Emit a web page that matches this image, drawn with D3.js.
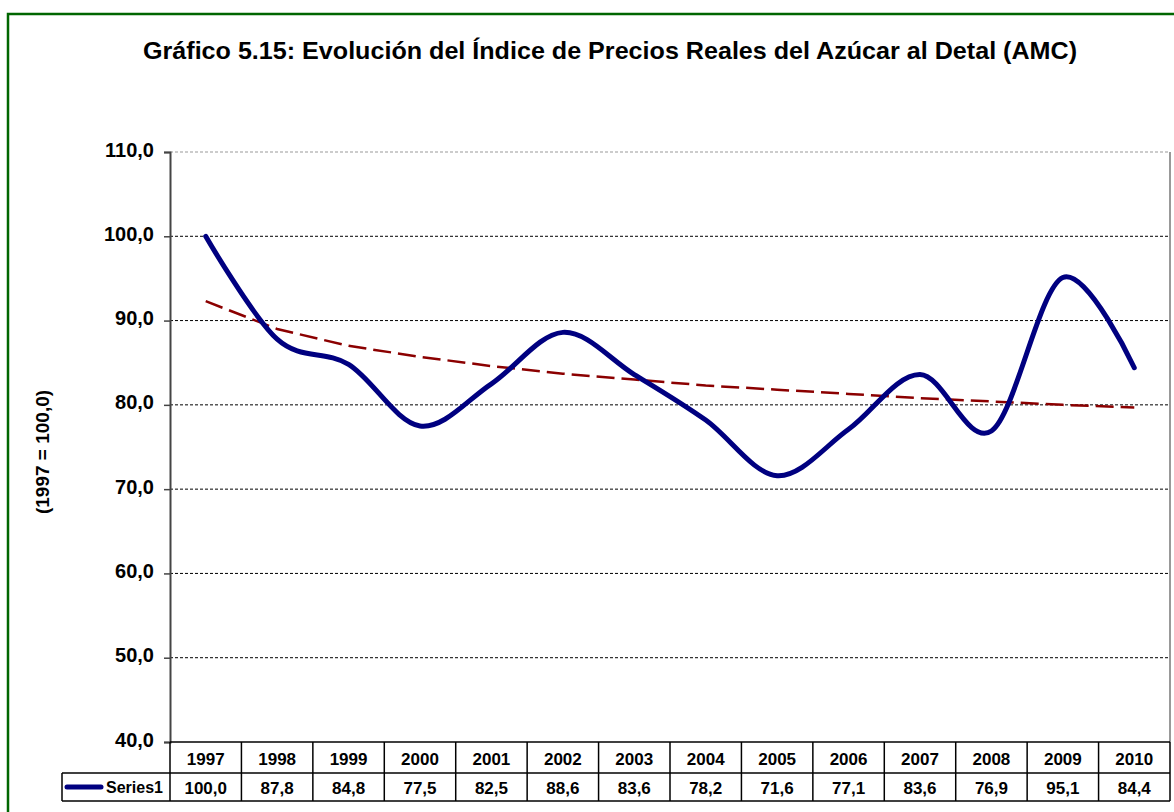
<!DOCTYPE html>
<html>
<head>
<meta charset="utf-8">
<script src="https://cdn.jsdelivr.net/npm/d3@7"></script>
<style>
  body { margin: 0; background: #fff; }
  svg { display: block; font-family: "Liberation Sans", Arial, sans-serif; }
</style>
</head>
<body>
<div id="chart"></div>
<script>
// data
const years = ["1997","1998","1999","2000","2001","2002","2003","2004","2005","2006","2007","2008","2009","2010"];
const series1 = [100.0, 87.8, 84.8, 77.5, 82.5, 88.6, 83.6, 78.2, 71.6, 77.1, 83.6, 76.9, 95.1, 84.4];
const trend = [92.3, 89.0, 87.0, 85.7, 84.6, 83.7, 83.0, 82.3, 81.8, 81.3, 80.8, 80.4, 80.0, 79.7];
const yTicks = [40, 50, 60, 70, 80, 90, 100, 110];
const seriesName = "Series1";
const title = "Gráfico 5.15: Evolución del Índice de Precios Reales del Azúcar al Detal (AMC)";
const yLabel = "(1997 = 100,0)";

const W = 1174, H = 812;
const plot = {left: 170, right: 1170, top: 152, bottom: 742};
const rowH = [31, 28];
const fmt = v => d3.format(".1f")(v).replace(".", ",");

const svg = d3.select("#chart").append("svg")
  .attr("width", W).attr("height", H);

// outer green frame
svg.append("rect")
  .attr("x", 8).attr("y", 14)
  .attr("width", W + 10).attr("height", H + 10)
  .attr("fill", "#fff").attr("stroke", "#006600").attr("stroke-width", 2.5);

//Title
svg.append("text")
  .attr("x", 143).attr("y", 59)
  .attr("textLength", 934).attr("lengthAdjust", "spacingAndGlyphs")
  .style("font-size", "24px").style("font-weight", "bold")
  .text(title);

//Scales
const x = d3.scaleBand().domain(years).range([plot.left, plot.right]);
const y = d3.scaleLinear().domain([40, 110]).range([plot.bottom, plot.top]);

//Gridlines
svg.append("g")
  .selectAll("line")
  .data(yTicks.filter(t => t > 40))
  .join("line")
    .attr("x1", plot.left).attr("x2", plot.right)
    .attr("y1", d => y(d)).attr("y2", d => y(d))
    .attr("stroke", d => d === 110 ? "#999" : "#000")
    .attr("stroke-width", 1)
    .attr("stroke-dasharray", "3,2");

// right border of plot
svg.append("line")
  .attr("x1", plot.right).attr("x2", plot.right)
  .attr("y1", plot.top).attr("y2", plot.bottom)
  .attr("stroke", "#999").attr("stroke-width", 2);

//Y axis
const yAxis = svg.append("g")
  .attr("transform", `translate(${plot.left},0)`)
  .call(d3.axisLeft(y).tickValues(yTicks).tickFormat(fmt).tickSize(6).tickPadding(10));
yAxis.select(".domain").attr("stroke", "#444").attr("stroke-width", 2);
yAxis.selectAll(".tick line").attr("stroke", "#444").attr("stroke-width", 1.5);
yAxis.selectAll(".tick text")
  .style("font-size", "20px").style("font-weight", "bold")
  .attr("fill", "#000").attr("dy", "0.2em")
  .attr("font-family", "Liberation Sans, Arial, sans-serif");

svg.append("text")
  .attr("transform", `translate(49,${(plot.top + plot.bottom) / 2 + 5}) rotate(-90)`)
  .attr("text-anchor", "middle")
  .style("font-size", "19px").style("font-weight", "bold")
  .text(yLabel);

//Trend line
const line = d3.line()
  .x((d, i) => x(years[i]) + x.bandwidth() / 2)
  .y(d => y(d));

svg.append("path")
  .datum(trend)
  .attr("fill", "none")
  .attr("stroke", "#8b0000")
  .attr("stroke-width", 2.5)
  .attr("stroke-dasharray", "18,7")
  .attr("d", line.curve(d3.curveLinear));

//Series line
svg.append("path")
  .datum(series1)
  .attr("fill", "none")
  .attr("stroke", "#000080")
  .attr("stroke-width", 5)
  .attr("stroke-linecap", "round")
  .attr("stroke-linejoin", "round")
  .attr("d", line.curve(d3.curveCatmullRom.alpha(0)));

//Data table
const table = svg.append("g").attr("class", "table");
const r0 = plot.bottom, r1 = r0 + rowH[0], r2 = r1 + rowH[1];
const legendLeft = 62;

table.append("line").attr("x1", plot.left).attr("x2", plot.right).attr("y1", r0).attr("y2", r0);
table.append("line").attr("x1", legendLeft).attr("x2", plot.right).attr("y1", r1).attr("y2", r1);
table.append("line").attr("x1", legendLeft).attr("x2", plot.right).attr("y1", r2).attr("y2", r2);
table.append("line").attr("x1", legendLeft).attr("x2", legendLeft).attr("y1", r1).attr("y2", r2);
table.selectAll("line.col")
  .data(years.map(d => x(d)).concat([plot.right]))
  .join("line")
    .attr("class", "col")
    .attr("x1", d => d).attr("x2", d => d)
    .attr("y1", r0).attr("y2", r2);
table.selectAll("line")
  .attr("stroke", "#000").attr("stroke-width", 1.5);

table.selectAll("text.year")
  .data(years)
  .join("text")
    .attr("class", "year")
    .attr("x", d => x(d) + x.bandwidth() / 2)
    .attr("y", r0 + 23)
    .attr("text-anchor", "middle")
    .style("font-size", "17px").style("font-weight", "bold")
    .text(d => d);

table.selectAll("text.val")
  .data(series1)
  .join("text")
    .attr("class", "val")
    .attr("x", (d, i) => x(years[i]) + x.bandwidth() / 2)
    .attr("y", r1 + 21)
    .attr("text-anchor", "middle")
    .style("font-size", "17px").style("font-weight", "bold")
    .text(fmt);

// legend key
table.append("line")
  .attr("x1", 67).attr("x2", 101)
  .attr("y1", (r1 + r2) / 2).attr("y2", (r1 + r2) / 2)
  .attr("stroke", "#000080").attr("stroke-width", 5)
  .attr("stroke-linecap", "round");
table.append("text")
  .attr("x", 106).attr("y", r1 + 20)
  .style("font-size", "16px").style("font-weight", "bold")
  .text(seriesName);
</script>
</body>
</html>
